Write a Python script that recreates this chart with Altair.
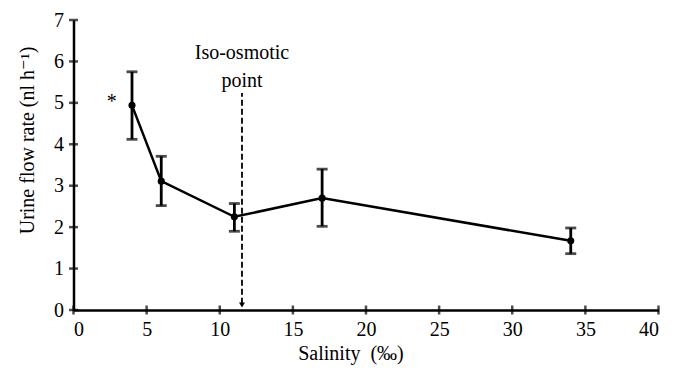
import altair as alt
import pandas as pd

salinity = [4, 6, 11, 17, 34]
flow = [4.94, 3.11, 2.25, 2.70, 1.67]
err_hi = [5.75, 3.71, 2.57, 3.40, 1.98]
err_lo = [4.12, 2.52, 1.90, 2.02, 1.36]

x_ticks = [0, 5, 10, 15, 20, 25, 30, 35, 40]
y_ticks = [0, 1, 2, 3, 4, 5, 6, 7]

iso_x = 11.52
iso_top = 5.24

df = pd.DataFrame({"s": salinity, "f": flow, "hi": err_hi, "lo": err_lo})
FONT = "'Liberation Serif', 'DejaVu Serif', serif"
FS = 20

xs = alt.Scale(domain=[0, 40], nice=False)
ys = alt.Scale(domain=[0, 7], nice=False)

base = alt.Chart(df)

x_enc = alt.X("s:Q", scale=xs, axis=alt.Axis(
    values=x_ticks, title="Salinity\u00a0\u00a0(‰)", grid=False, ticks=False,
    domainColor="black", domainWidth=2.5, labelFont=FONT, labelFontSize=FS,
    labelColor="black", labelPadding=9, titleFont=FONT, titleFontSize=FS,
    titleFontWeight="normal", titleColor="black",
    titleX=277, titleY=49, titleBaseline="alphabetic", titleAlign="center"))
y_enc = alt.Y("f:Q", scale=ys, axis=alt.Axis(
    values=y_ticks, title="Urine flow rate (nl h⁻¹)", grid=False, ticks=False,
    domainColor="black", domainWidth=2.5, labelFont=FONT, labelFontSize=FS,
    labelColor="black", labelPadding=10, titleFont=FONT, titleFontSize=FS,
    titleFontWeight="normal", titleColor="black",
    titleX=-40, titleY=120, titleAngle=270, titleBaseline="alphabetic", titleAlign="center"))

line = base.mark_line(color="black", strokeWidth=2.5).encode(x=x_enc, y=y_enc)
pts = base.mark_circle(color="black", opacity=1, size=50).encode(x="s:Q", y="f:Q")
err = base.mark_rule(color="black", strokeWidth=2.8).encode(x="s:Q", y="lo:Q", y2="hi:Q")
cap_hi = base.mark_tick(color="black", thickness=2.8, size=11, orient="horizontal").encode(x="s:Q", y="hi:Q")
cap_lo = base.mark_tick(color="black", thickness=2.8, size=11, orient="horizontal").encode(x="s:Q", y="lo:Q")

xt = alt.Chart(pd.DataFrame({"v": x_ticks, "z": [0] * len(x_ticks)})).mark_tick(
    color="black", thickness=2.5, size=9, orient="vertical").encode(
    x=alt.X("v:Q", scale=xs), y=alt.Y("z:Q", scale=ys))
yt = alt.Chart(pd.DataFrame({"v": y_ticks, "z": [0] * len(y_ticks)})).mark_tick(
    color="black", thickness=2.5, size=9, orient="horizontal").encode(
    y=alt.Y("v:Q", scale=ys), x=alt.X("z:Q", scale=xs))

iso_df = pd.DataFrame({"x": [iso_x], "y0": [0.15], "y1": [iso_top]})
iso_line = alt.Chart(iso_df).mark_rule(color="black", strokeWidth=1.8, strokeDash=[6, 3]).encode(
    x="x:Q", y="y0:Q", y2="y1:Q")
arrow = alt.Chart(pd.DataFrame({"x": [iso_x], "y": [0.12]})).mark_point(
    shape="triangle-down", filled=True, color="black", opacity=1, size=35).encode(x="x:Q", y="y:Q")

labels = alt.Chart(pd.DataFrame({
    "x": [iso_x, iso_x, 2.62],
    "y": [6.05, 5.38, 4.88],
    "t": ["Iso-osmotic", "point", "*"]})).mark_text(
    font=FONT, fontSize=FS, color="black", baseline="alphabetic", align="center").encode(
    x="x:Q", y="y:Q", text="t:N")

chart = alt.layer(err, line, cap_hi, cap_lo, pts, iso_line, arrow, labels, xt, yt).properties(
    width=585, height=290, autosize=alt.AutoSizeParams(type="none"),
    padding={"left": 65.5, "top": 12, "right": 10, "bottom": 60},
).configure_view(stroke=None)

chart.save("out.html", embed_options={"renderer": "svg", "actions": False})
